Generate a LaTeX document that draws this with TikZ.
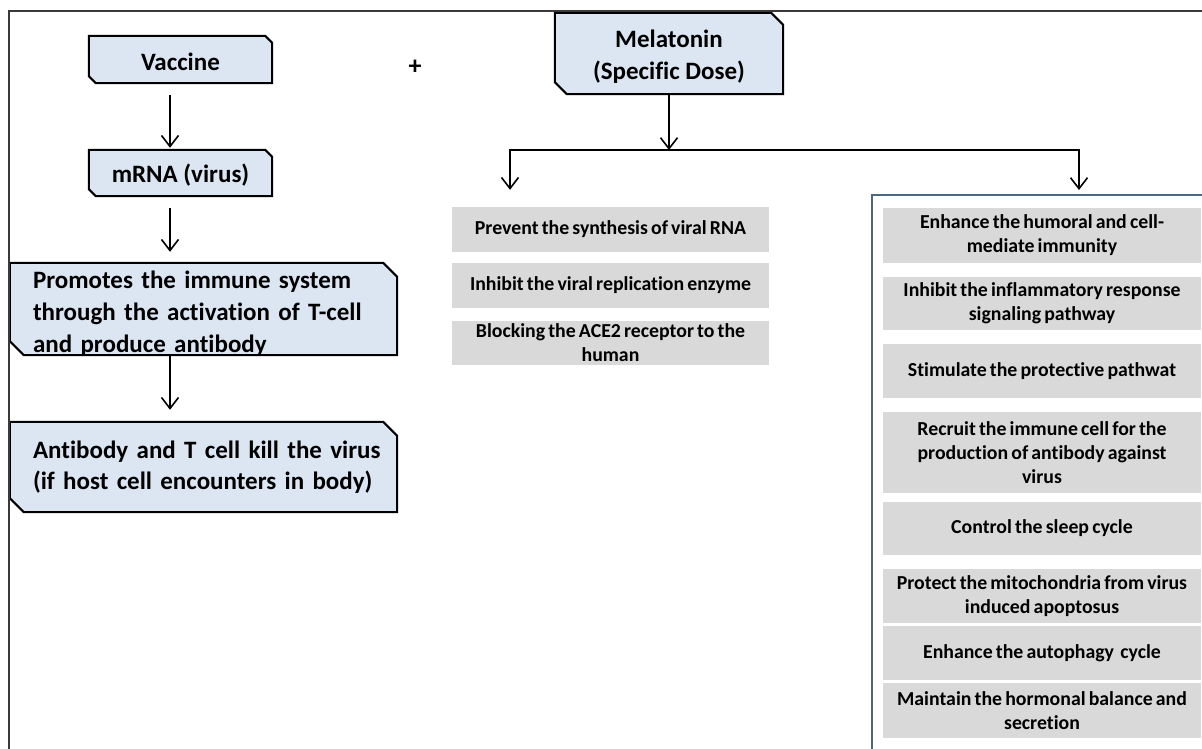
\documentclass[tikz,border=0pt]{standalone}
\usepackage{fontspec}
\setmainfont[Ligatures=CommonOff]{Carlito}
\usetikzlibrary{arrows.meta,calc}
\pgfdeclarelayer{background}
\pgfsetlayers{background,main}
\definecolor{snipblue}{HTML}{DCE6F2}
\definecolor{cellgray}{HTML}{D9D9D9}
\definecolor{panelline}{HTML}{4A6784}
\definecolor{frameline}{HTML}{3A3A3A}

% narrower word spaces for the grey cells
\newcommand\tightspaces{\spaceskip=0.16em\relax}

% outline of a box with its top-right and bottom-left corners snipped off
\newcommand\snipoutline[2]{%
  \filldraw[fill=snipblue, draw=black, line width=2pt, line join=miter]
    (#1.north west) -- ([xshift=-#2pt]#1.north east) -- ([yshift=-#2pt]#1.north east)
    -- (#1.south east) -- ([xshift=#2pt]#1.south west) -- ([yshift=#2pt]#1.south west) -- cycle;}

\begin{document}
\begin{tikzpicture}[x=1pt,y=-1pt,
  snipbox/.style={inner sep=0pt},
  bluetext/.style={inner sep=0pt, font=\fontsize{25}{32}\selectfont\bfseries, align=center},
  cell/.style={fill=cellgray, inner sep=0pt, align=center,
    font=\fontsize{19.8}{24}\selectfont\bfseries\tightspaces},
  midcell/.style={cell, minimum width=317pt, minimum height=45pt},
  rightcell/.style={cell, minimum width=318pt},
  arr/.style={line width=1.6pt, -{Straight Barb[length=11pt,width=17pt]}},
  arrboth/.style={line width=1.6pt, {Straight Barb[length=11pt,width=17pt]}-{Straight Barb[length=11pt,width=17pt]}, line join=miter},
]
\useasboundingbox (0,0) rectangle (1202,749);

% outer frame
\draw[frameline, line width=2pt] (1203,11) -- (9,11) -- (9,750);

% vaccine pathway: boxes
\node[snipbox, minimum width=183pt, minimum height=47pt] (vac) at (180.5,59.5) {};
\node[snipbox, minimum width=183pt, minimum height=46pt] (mrna) at (180.5,173) {};
\node[snipbox, minimum width=387pt, minimum height=92pt] (prom) at (203.5,309) {};
\node[snipbox, minimum width=387pt, minimum height=90pt] (anti) at (203.5,467) {};
% melatonin box
\node[snipbox, minimum width=228pt, minimum height=81pt] (mel) at (669,53.5) {};

\begin{pgfonlayer}{background}
  \snipoutline{vac}{7}
  \snipoutline{mrna}{7}
  \snipoutline{prom}{14}
  \snipoutline{anti}{14}
  \snipoutline{mel}{12}
\end{pgfonlayer}

% box texts
\node[bluetext] (vactext) at ([yshift=-2pt]vac.center) {Vaccine};
\node[bluetext] (mrnatext) at ([yshift=-2pt]mrna.center) {mRNA (virus)};
\node[bluetext, text width=341pt, align=left] (promtext) at ([yshift=-5pt]prom.center)
  {\makebox[341pt][s]{Promotes the immune system}\\
   \makebox[341pt][s]{through the activation of T-cell}\\
   and produce antibody};
\node[bluetext, text width=341pt, align=left,
  font=\fontsize{25}{30.5}\selectfont\bfseries] (antitext) at (anti.center)
  {\makebox[341pt][s]{Antibody and T cell kill the virus}\\
   (if host cell encounters in body)};
\node[bluetext] (meltext) at ([yshift=-3pt]mel.center) {Melatonin\\(Specific Dose)};

\node[font=\fontsize{26}{30}\selectfont\bfseries] (plus) at (415,67) {+};

% antiviral actions
\node[midcell] (m1) at (610.5,229.5) {Prevent the synthesis of viral RNA};
\node[midcell] (m2) at (610.5,285.5) {Inhibit the viral replication enzyme};
\node[midcell, minimum height=44pt] (m3) at (610.5,343) {Blocking the ACE2 receptor to the\\human};

% immune-support panel
\coordinate (pnw) at (872,195);
\draw[panelline, line width=1.6pt] (1203,195) -- (pnw) -- (872,750);
\node[rightcell, minimum height=55pt] (r1) at (1042,235.5) {Enhance the humoral and cell-\\mediate immunity};
\node[rightcell, minimum height=53pt] (r2) at (1042,303.5) {Inhibit the inflammatory response\\signaling pathway};
\node[rightcell, minimum height=54pt] (r3) at (1042,371) {Stimulate the protective pathwat};
\node[rightcell, minimum height=81pt] (r4) at (1042,452.5) {Recruit the immune cell for the\\production of antibody against\\virus};
\node[rightcell, minimum height=53pt] (r5) at (1042,528.5) {Control the sleep cycle};
\node[rightcell, minimum height=54pt] (r6) at (1042,596) {Protect the mitochondria from virus\\induced apoptosus};
\node[rightcell, minimum height=54pt] (r7) at (1042,653) {Enhance the autophagy\ \ cycle};
\node[rightcell, minimum height=55pt] (r8) at (1042,710.5) {Maintain the hormonal balance and\\secretion};

% connectors
\coordinate (spine) at (170,0);
\draw[arr, shorten <=12pt, shorten >=2pt] (vac.south -| spine) -- (mrna.north -| spine);
\draw[arr, shorten <=12pt, shorten >=11pt] (mrna.south -| spine) -- (prom.north -| spine);
\draw[arr, shorten >=12pt] (prom.south -| spine) -- (anti.north -| spine);

\coordinate (brL) at (510,150);
\coordinate (brR) at (1079,150);
\draw[arr] (mel.south) -- (mel.south |- brL);
\draw[arrboth] ($(m1.north -| brL)+(0,-17)$) -- (brL) -- (brR) -- ($(pnw -| brR)+(0,-5)$);
\end{tikzpicture}
\end{document}
